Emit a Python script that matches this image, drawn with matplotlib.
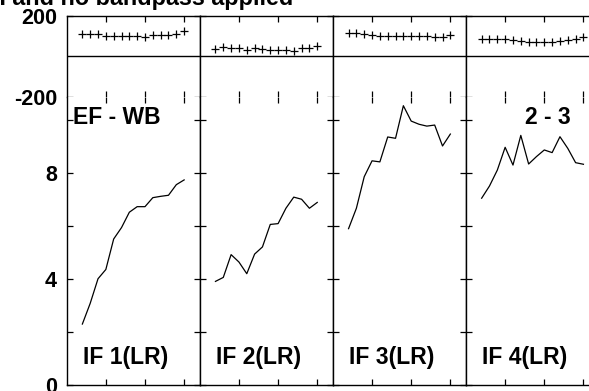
import matplotlib
matplotlib.use('Agg')
import matplotlib.pyplot as plt

plt.rcParams['font.family'] = ['Liberation Sans', 'DejaVu Sans']
plt.rcParams['font.weight'] = 'bold'
plt.rcParams['axes.unicode_minus'] = False

# ---- data ----
channels = list(range(2, 16))
if_labels = ['IF 1(LR)', 'IF 2(LR)', 'IF 3(LR)', 'IF 4(LR)']

amp_if1 = [2.30, 3.08, 4.01, 4.36, 5.51, 5.94, 6.52, 6.73, 6.73, 7.07, 7.12, 7.16, 7.56, 7.74]
amp_if2 = [3.91, 4.06, 4.92, 4.64, 4.20, 4.94, 5.21, 6.06, 6.09, 6.67, 7.09, 7.01, 6.67, 6.89]
amp_if3 = [5.90, 6.67, 7.86, 8.46, 8.42, 9.36, 9.31, 10.54, 9.96, 9.84, 9.77, 9.81, 9.02, 9.47]
amp_if4 = [7.05, 7.51, 8.11, 8.97, 8.30, 9.42, 8.34, 8.62, 8.87, 8.77, 9.37, 8.93, 8.39, 8.33]

phase_if1 = [110, 110, 110, 100, 100, 100, 100, 100, 95, 107, 107, 107, 108, 124]
phase_if2 = [36, 47, 42, 39, 32, 39, 36, 32, 32, 32, 27, 39, 39, 50]
phase_if3 = [116, 116, 110, 106, 100, 100, 100, 100, 100, 100, 100, 93, 96, 105]
phase_if4 = [85, 85, 85, 85, 78, 75, 72, 72, 72, 72, 75, 80, 85, 96]

amps = [amp_if1, amp_if2, amp_if3, amp_if4]
phases = [phase_if1, phase_if2, phase_if3, phase_if4]

amp_ticks = [0, 2, 4, 6, 8, 10]
amp_ticklabels = ['0', '', '4', '', '8', '']
phase_ticks = [-200, 200]
x_ticks = [5, 10, 15]

title_text = 'Cross-power spectrum, Stokes I and no bandpass applied'
baseline_text = 'EF - WB'
stokes_text = '2 - 3'

# ---- layout (pixels) ----
W, H = 589, 391
fig = plt.figure(figsize=(W / 100, H / 100), dpi=100)


def fx(px):
    return px / W


def fy(py):
    return 1 - py / H


left0, pw = 66.7, 133.1
ph_top, ph_bot, amp_bot = 15.7, 96.7, 385.0
fs_tick = 15.5
fs_text = 16.5

for i in range(4):
    x0 = left0 + i * pw
    axp = fig.add_axes([fx(x0), fy(ph_bot), pw / W, (ph_bot - ph_top) / H])
    axa = fig.add_axes([fx(x0), fy(amp_bot), pw / W, (amp_bot - ph_bot) / H])

    # phase panel
    axp.plot(channels, phases[i], linestyle='none', marker='+', color='black',
             markersize=6, markeredgewidth=0.9)
    axp.axhline(0, color='black', lw=1.0)
    axp.set_xlim(0, 17)
    axp.set_ylim(-200, 200)
    axp.spines['bottom'].set_visible(False)
    axp.set_xticks(x_ticks)
    axp.set_yticks(phase_ticks)
    axp.tick_params(axis='both', direction='in', length=4.5, width=0.9,
                    top=True, bottom=True, left=True, right=True,
                    labelbottom=False, labelsize=fs_tick, pad=7)
    if i != 0:
        axp.tick_params(labelleft=False)

    # amplitude panel
    axa.plot(channels, amps[i], color='black', lw=0.9)
    axa.set_xlim(0, 17)
    axa.set_ylim(0, 10.88)
    axa.spines['top'].set_visible(False)
    axa.set_xticks(x_ticks)
    axa.set_yticks(amp_ticks)
    axa.set_yticklabels(amp_ticklabels)
    axa.tick_params(axis='both', direction='in', length=4.5, width=0.9,
                    top=True, bottom=True, left=True, right=True,
                    labelbottom=False, labelsize=fs_tick, pad=7)
    if i != 0:
        axa.tick_params(labelleft=False)

    for ax in (axp, axa):
        for s in ax.spines.values():
            s.set_linewidth(1.0)
        for lab in ax.get_yticklabels():
            lab.set_fontweight('bold')

    fig.text(fx(x0 + 16.5), fy(364), if_labels[i], fontsize=fs_text,
             fontweight='bold', ha='left', va='baseline')

fig.text(fx(73), fy(124), baseline_text, fontsize=fs_text, fontweight='bold',
         ha='left', va='baseline')
fig.text(fx(525), fy(124), stokes_text, fontsize=fs_text, fontweight='bold',
         ha='left', va='baseline')
fig.text(fx(293), fy(5.5), title_text, fontsize=16.8, fontweight='bold',
         ha='right', va='baseline')

fig.savefig('out.png', dpi=100)
